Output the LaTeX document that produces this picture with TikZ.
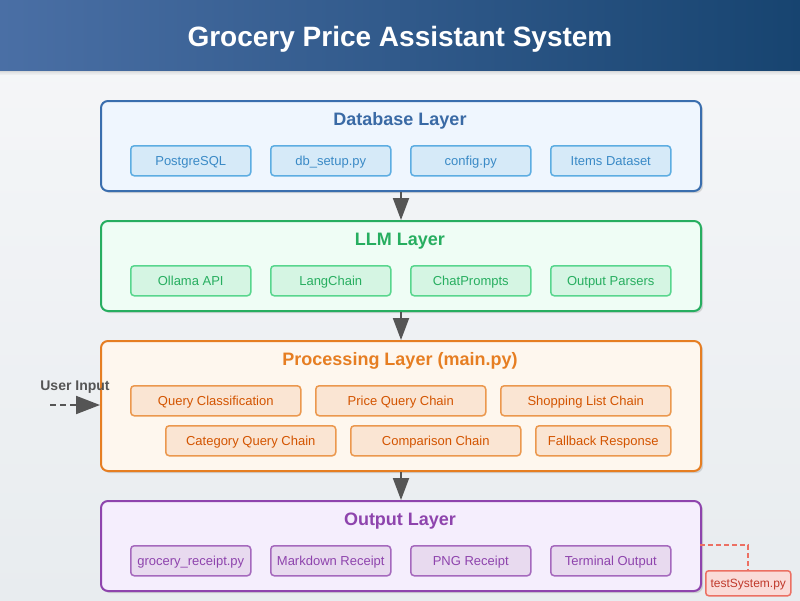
\documentclass[tikz,border=0pt]{standalone}
\usepackage{fontspec}
\setmainfont{Liberation Sans}
\usetikzlibrary{arrows.meta,shadows,calc}
\definecolor{hdrL}{HTML}{4A6FA5}
\definecolor{hdrR}{HTML}{174470}
\definecolor{bgT}{HTML}{F6F7F9}
\definecolor{bgB}{HTML}{E8ECEF}
\definecolor{dbS}{HTML}{3A6EAE}\definecolor{dbF}{HTML}{EFF6FE}
\definecolor{dbT}{HTML}{3A6AA5}\definecolor{dbbF}{HTML}{D6EAF8}\definecolor{dbbS}{HTML}{5DADE2}\definecolor{dbbT}{HTML}{3A8AC6}
\definecolor{llS}{HTML}{27AE60}\definecolor{llF}{HTML}{EFFDF5}
\definecolor{llbF}{HTML}{D5F5E3}\definecolor{llbS}{HTML}{58D68D}\definecolor{llbT}{HTML}{27AE60}
\definecolor{prS}{HTML}{E67E22}\definecolor{prF}{HTML}{FEF7EE}
\definecolor{prbF}{HTML}{FAE5D3}\definecolor{prbS}{HTML}{EB984E}\definecolor{prbT}{HTML}{D35400}
\definecolor{ouS}{HTML}{8E44AD}\definecolor{ouF}{HTML}{F5EEFD}
\definecolor{oubF}{HTML}{E8DAEF}\definecolor{oubS}{HTML}{A569BD}\definecolor{oubT}{HTML}{8E44AD}
\definecolor{tsF}{HTML}{FADBD8}\definecolor{tsS}{HTML}{EC7063}\definecolor{tsT}{HTML}{C0392B}
\definecolor{arr}{HTML}{555555}
\tikzset{
  layer/.style={draw=#1S, fill=#1F, line width=2pt, rounded corners=7pt, anchor=north west, inner sep=0pt,
    drop shadow={shadow xshift=2pt, shadow yshift=-2pt, opacity=0.22, fill=black!60}},
  ltitle/.style={text=#1, font=\fontsize{18}{20}\selectfont\bfseries, inner sep=0pt, text height=13pt, text depth=0pt},
  sub/.style n args={2}{draw=#1bS, fill=#1bF, text=#1bT, line width=1.5pt, rounded corners=3.5pt,
    minimum width=#2, minimum height=30pt, inner sep=0pt, anchor=north west, font=\fontsize{13}{15}\selectfont,
    text height=10.3pt, text depth=0pt},
  flow/.style={draw=arr, line width=2pt, -{Triangle[width=16pt,length=22pt]}},
}
\begin{document}
\begin{tikzpicture}[x=1pt,y=-1pt]
\useasboundingbox (0,0) rectangle (800,600);
% background
\shade[top color=bgT, bottom color=bgB] (0,0) rectangle (800,600);
% header shadow
\foreach \i/\o in {0/0.16,1/0.12,2/0.08,3/0.05,4/0.03}{
  \fill[black, opacity=\o] (0,70+\i) rectangle (800,71+\i);
}
\shade[left color=hdrL, right color=hdrR] (0,0) rectangle (800,70);
\node[text=white, font=\fontsize{28}{32}\selectfont\bfseries, inner sep=0pt, text height=20pt, text depth=0pt] (title) at (400,36) {Grocery Price Assistant System};

% Database layer
\node[layer=db, minimum width=600pt, minimum height=90pt] (db) at (100,100) {};
\node[ltitle=dbT] (dbt) at (400,118.5) {Database Layer};
\node[sub={db}{120pt}] (db1) at (130,145) {PostgreSQL};
\node[sub={db}{120pt}] (db2) at (270,145) {db\_setup.py};
\node[sub={db}{120pt}] (db3) at (410,145) {config.py};
\node[sub={db}{120pt}] (db4) at (550,145) {Items Dataset};

% LLM layer
\node[layer=ll, minimum width=600pt, minimum height=90pt] (ll) at (100,220) {};
\node[ltitle=llS] (llt) at (400,238.5) {LLM Layer};
\node[sub={ll}{120pt}] (ll1) at (130,265) {Ollama API};
\node[sub={ll}{120pt}] (ll2) at (270,265) {LangChain};
\node[sub={ll}{120pt}] (ll3) at (410,265) {ChatPrompts};
\node[sub={ll}{120pt}] (ll4) at (550,265) {Output Parsers};

% Processing layer
\node[layer=pr, minimum width=600pt, minimum height=130pt] (pr) at (100,340) {};
\node[ltitle=prS] (prt) at (400,358.5) {Processing Layer (main.py)};
\node[sub={pr}{170pt}] (pr1) at (130,385) {Query Classification};
\node[sub={pr}{170pt}] (pr2) at (315,385) {Price Query Chain};
\node[sub={pr}{170pt}] (pr3) at (500,385) {Shopping List Chain};
\node[sub={pr}{170pt}] (pr4) at (165,425) {Category Query Chain};
\node[sub={pr}{170pt}] (pr5) at (350,425) {Comparison Chain};
\node[sub={pr}{135pt}] (pr6) at (535,425) {Fallback Response};

% Output layer
\node[layer=ou, minimum width=600pt, minimum height=90pt] (ou) at (100,500) {};
\node[ltitle=ouS] (out) at (400,518.5) {Output Layer};
\node[sub={ou}{120pt}] (ou1) at (130,545) {grocery\_receipt.py};
\node[sub={ou}{120pt}] (ou2) at (270,545) {Markdown Receipt};
\node[sub={ou}{120pt}] (ou3) at (410,545) {PNG Receipt};
\node[sub={ou}{120pt}] (ou4) at (550,545) {Terminal Output};

% flow arrows
\draw[flow] (db.south) -- (ll.north);
\draw[flow] (ll.south) -- (pr.north);
\draw[flow] (pr.south) -- (ou.north);

% user input
\node[text=arr, font=\fontsize{14}{16}\selectfont\bfseries, inner sep=0pt, text height=10pt, text depth=0pt] (ui) at (75,385) {User Input};
\coordinate (uistart) at (50,405);
\draw[draw=arr, line width=2pt, dash pattern=on 6pt off 4pt, -{Triangle[width=18pt,length=24pt]}] (uistart) -- (pr.west |- uistart);

% test system
\node[draw=tsS, fill=tsF, text=tsT, line width=1.5pt, rounded corners=3pt, minimum width=85pt, minimum height=25pt,
  inner sep=0pt, anchor=north west, font=\fontsize{12}{14}\selectfont, text height=9.2pt, text depth=0pt] (ts) at (705,570) {testSystem.py};
\coordinate (tsa) at (700,545);
\draw[draw=tsS, line width=1.6pt, dash pattern=on 5pt off 3pt] (tsa) -| (ts.north -| 748,0);
\end{tikzpicture}
\end{document}
